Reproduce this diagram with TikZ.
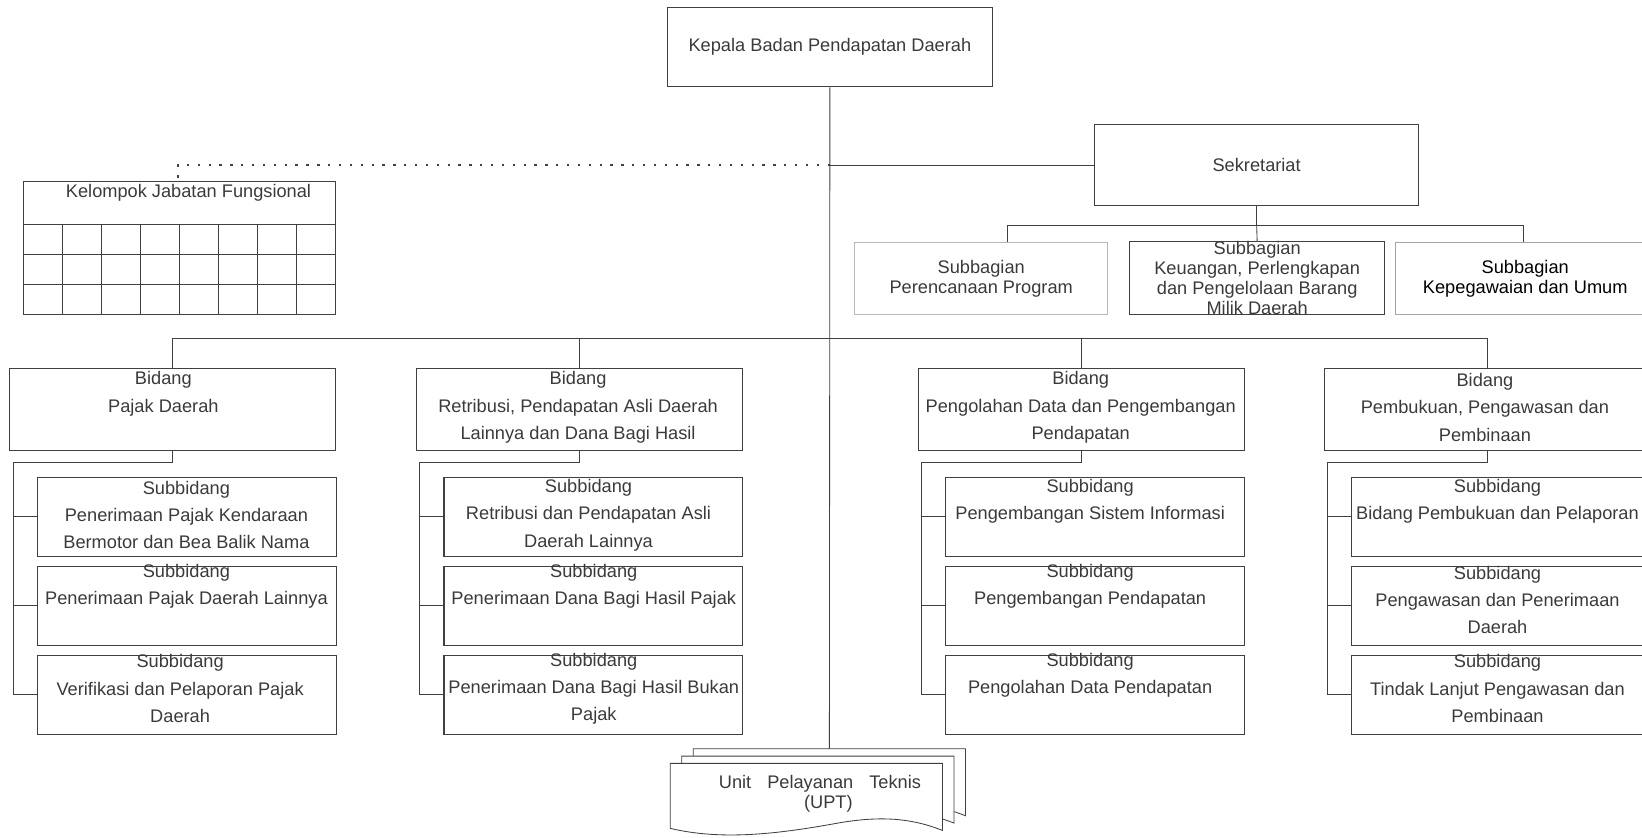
\documentclass[tikz,border=0pt]{standalone}
\usepackage{fontspec}
\setmainfont{Liberation Sans}
\usepackage{xcolor}
\definecolor{garis}{HTML}{404040}
\definecolor{tulisan}{HTML}{3A3A3A}
\definecolor{abu}{HTML}{B8B8B8}
\definecolor{abutua}{HTML}{A4A4A4}

\begin{document}
\begin{tikzpicture}[x=1pt,y=-1pt]
\tikzstyle{kotak}=[rectangle,draw=garis,line width=1pt,inner sep=0pt,text=tulisan,align=center,font=\fontsize{17.4}{19}\selectfont]
\tikzstyle{bidang}=[kotak,minimum width=311pt,minimum height=78pt]
\tikzstyle{subkotak}=[kotak,minimum width=285pt,minimum height=75pt]
\tikzstyle{teks}=[inner sep=0pt,align=center,text=tulisan,font=\fontsize{17.4}{26}\selectfont]
\tikzstyle{hub}=[draw=garis,line width=0.8pt]
\tikzstyle{titik}=[draw=garis,line width=2.2pt,dash pattern=on 2.2pt off 8.17pt]
\clip (0,0) rectangle (1568,800);
% Kepala dan sekretariat
\node[kotak,minimum width=311pt,minimum height=76pt] (kepala) at (792.5,45) {Kepala Badan Pendapatan Daerah};
\node[kotak,minimum width=310pt,minimum height=77pt] (sek) at (1200,157.5) {Sekretariat};
\node[kotak,draw=abu,minimum width=242pt,minimum height=68pt] (sb1) at (937,266) {Subbagian\\Perencanaan Program};
\node[kotak,minimum width=243pt,minimum height=69pt] (sb2) at (1200.5,265.5) {Subbagian\\Keuangan, Perlengkapan\\dan Pengelolaan Barang\\Milik Daerah};
\node[kotak,draw=abutua,text=black,minimum width=247pt,minimum height=68pt] (sb3) at (1456.5,266) {Subbagian\\Kepegawaian dan Umum};
% Kelompok jabatan fungsional
\node[kotak,minimum width=298pt,minimum height=41pt] (kelompok) at (171,193.5) {};
\node[teks] (kelompokt) at (180,184) {Kelompok Jabatan Fungsional};
\foreach \i in {0,...,7}
  \foreach \j in {0,1,2}
    \draw[hub,line width=1pt] (22+37.25*\i,214+28.67*\j) rectangle +(37.25,28.67);
% Bidang
\node[bidang] (b1) at (164.5,391) {};
\node[bidang] (b2) at (553.5,391) {};
\node[bidang] (b3) at (1032.5,391) {};
\node[bidang] (b4) at (1420.5,391) {};
\node[teks] (tb1) at (156,376) {Bidang\\Pajak Daerah};
\node[teks] (tb2) at (552,389) {Bidang\\Retribusi, Pendapatan Asli Daerah\\Lainnya dan Dana Bagi Hasil};
\node[teks] (tb3) at (1032,389) {Bidang\\Pengolahan Data dan Pengembangan\\Pendapatan};
\node[teks] (tb4) at (1418,389) {Bidang\\Pembukuan, Pengawasan dan\\Pembinaan};
% Subbidang
\foreach \k/\x in {1/36,2/424,3/903,4/1291}
  \foreach \r/\y in {1/456,2/541,3/626}
    \node[subkotak] (s\k\r) at (\x+142.5,\y+37.5) {};
\node[teks] (t11) at (178,492) {Subbidang\\Penerimaan Pajak Kendaraan\\Bermotor dan Bea Balik Nama};
\node[teks] (t12) at (178,560) {Subbidang\\Penerimaan Pajak Daerah Lainnya};
\node[teks] (t13) at (172,657.5) {Subbidang\\Verifikasi dan Pelaporan Pajak\\Daerah};
\node[teks] (t21) at (562,492) {Subbidang\\Retribusi dan Pendapatan Asli\\Daerah Lainnya};
\node[teks] (t22) at (567,560) {Subbidang\\Penerimaan Dana Bagi Hasil Pajak};
\node[teks] (t23) at (567,657.5) {Subbidang\\Penerimaan Dana Bagi Hasil Bukan\\Pajak};
\node[teks] (t31) at (1041,479) {Subbidang\\Pengembangan Sistem Informasi};
\node[teks] (t32) at (1041,560) {Subbidang\\Pengembangan Pendapatan};
\node[teks] (t33) at (1041,644.5) {Subbidang\\Pengolahan Data Pendapatan};
\node[teks] (t41) at (1430,479) {Subbidang\\Bidang Pembukuan dan Pelaporan};
\node[teks] (t42) at (1430,573) {Subbidang\\Pengawasan dan Penerimaan\\Daerah};
\node[teks] (t43) at (1430,657.5) {Subbidang\\Tindak Lanjut Pengawasan dan\\Pembinaan};
% garis komando
\coordinate (uptatas) at (792,715);
\coordinate (bus) at (792,323);
\coordinate (kirisb) at (962,215);
\coordinate (kanansb) at (1455,215);
\coordinate (jf) at (170,170);
\draw[hub] (kepala.south) -- (uptatas);
\draw[hub] (kepala.south |- sek.west) -- (sek.west);
\draw[titik] (kepala.south |- sek.west) -- (jf |- sek.west) -- (jf);
\draw[hub] (sek.south) -- (sek.south |- kirisb);
\draw[hub] (kirisb) -- (kanansb);
\draw[hub] (kirisb) -- (kirisb |- sb1.north);
\draw[hub] (sek.south |- kirisb) -- (sb2.north);
\draw[hub] (kanansb) -- (kanansb |- sb3.north);
\draw[hub] (b1.north |- bus) -- (b4.north |- bus);
\foreach \b in {b1,b2,b3,b4}
  \draw[hub] (\b.north |- bus) -- (\b.north);
\foreach \k in {1,2,3,4} {
  \draw[hub] (b\k.south) -- ++(0,11) -| ([xshift=-23pt]s\k3.west) -- (s\k3.west);
  \foreach \r in {1,2}
    \draw[hub] ([xshift=-23pt]s\k\r.west) -- (s\k\r.west);
}
% UPT (tumpukan dokumen)
\foreach \dx/\dy in {22/-14,11/-7,0/0}
  \filldraw[hub,fill=white,shift={(\dx,\dy)}] (640,729) -- (900,729) -- (900,793)
    .. controls (870,781) and (840,779) .. (800,786)
    .. controls (745,796) and (690,803) .. (640,791) -- cycle;
\node[teks,font=\fontsize{17.4}{20}\selectfont] (upt) at (783,758) {\makebox[193pt][s]{Unit Pelayanan Teknis}\\\hspace*{16pt}(UPT)};
\end{tikzpicture}
\end{document}
